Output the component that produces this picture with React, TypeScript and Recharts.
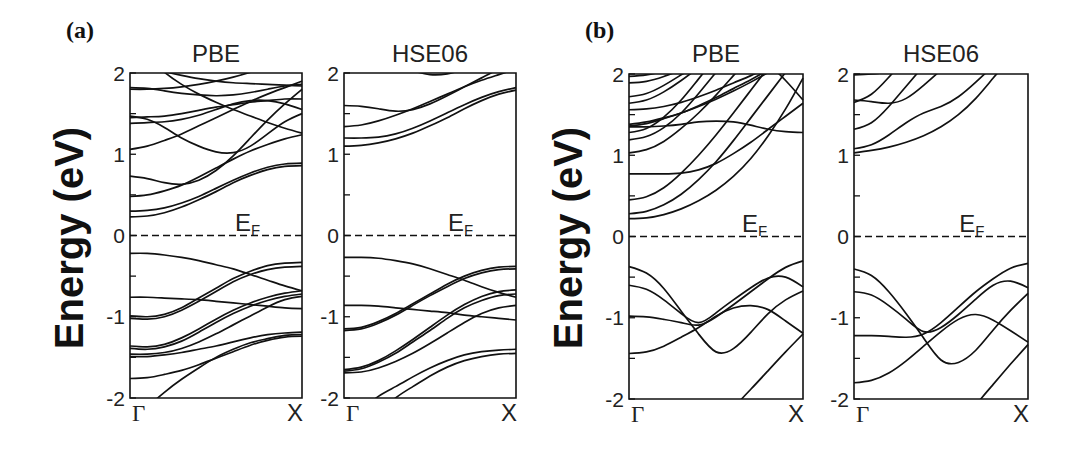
import { LineChart, Line, XAxis, YAxis, ReferenceLine, ReferenceArea } from 'recharts';

// k-path sampled from Γ (0) to X (1)
const K_POINTS = [0, 0.1, 0.2, 0.3, 0.4, 0.5, 0.6, 0.7, 0.8, 0.9, 1];
const Y_TICKS = [-2, -1.5, -1, -0.5, 0, 0.5, 1, 1.5, 2];
const X_TICKS = [0, 1];
const X_LABELS = ['Γ', 'X'];

// (a) PBE
const A_PBE_VALENCE = [
  [-0.22, -0.22, -0.24, -0.27, -0.31, -0.36, -0.41, -0.48, -0.55, -0.62, -0.68],
  [-0.99, -1.0, -0.97, -0.89, -0.77, -0.65, -0.53, -0.44, -0.37, -0.34, -0.33],
  [-1.02, -1.03, -1.0, -0.92, -0.81, -0.69, -0.57, -0.48, -0.42, -0.39, -0.38],
  [-0.76, -0.76, -0.77, -0.78, -0.79, -0.81, -0.83, -0.85, -0.87, -0.89, -0.9],
  [-1.36, -1.37, -1.34, -1.26, -1.15, -1.03, -0.92, -0.83, -0.76, -0.71, -0.68],
  [-1.39, -1.4, -1.37, -1.3, -1.19, -1.07, -0.96, -0.87, -0.8, -0.75, -0.72],
  [-1.46, -1.46, -1.44, -1.39, -1.31, -1.21, -1.1, -0.99, -0.88, -0.79, -0.75],
  [-1.49, -1.49, -1.47, -1.44, -1.4, -1.36, -1.31, -1.26, -1.22, -1.2, -1.19],
  [-1.76, -1.75, -1.71, -1.66, -1.59, -1.51, -1.43, -1.35, -1.29, -1.25, -1.24],
  [-2.35, -2.12, -1.93, -1.77, -1.63, -1.5, -1.4, -1.32, -1.27, -1.23, -1.22],
];
const A_PBE_CONDUCTION = [
  [0.23, 0.24, 0.28, 0.35, 0.44, 0.54, 0.65, 0.74, 0.81, 0.85, 0.86],
  [0.3, 0.31, 0.34, 0.4, 0.48, 0.58, 0.68, 0.77, 0.84, 0.88, 0.89],
  [0.48, 0.5, 0.55, 0.62, 0.72, 0.83, 0.94, 1.04, 1.12, 1.19, 1.24],
  [0.73, 0.7, 0.65, 0.63, 0.68, 0.8, 0.98, 1.2, 1.42, 1.62, 1.8],
  [1.06, 1.1, 1.17, 1.25, 1.35, 1.45, 1.55, 1.65, 1.74, 1.82, 1.9],
  [1.47, 1.43, 1.33, 1.2, 1.1, 1.03, 1.02, 1.1, 1.25, 1.4, 1.5],
  [1.45, 1.46, 1.47, 1.5, 1.54, 1.58, 1.61, 1.64, 1.66, 1.68, 1.68],
  [1.38, 1.39, 1.4, 1.43, 1.48, 1.55, 1.62, 1.66, 1.66, 1.62, 1.55],
  [1.8, 1.8, 1.81, 1.83, 1.86, 1.9, 1.95, 2.01, 2.08, 2.15, 2.22],
  [1.82, 1.81, 1.78, 1.75, 1.73, 1.72, 1.73, 1.76, 1.8, 1.84, 1.86],
  [2.4, 2.2, 2.01, 1.86, 1.74, 1.64, 1.55, 1.47, 1.39, 1.32, 1.26],
  [2.2, 2.1, 2.02, 1.97, 1.93, 1.9, 1.88, 1.87, 1.86, 1.85, 1.84],
];

// (a) HSE06
const A_HSE_VALENCE = [
  [-0.27, -0.27, -0.28, -0.31, -0.35, -0.41, -0.48, -0.55, -0.63, -0.7, -0.76],
  [-1.15, -1.13, -1.06, -0.96, -0.84, -0.72, -0.6, -0.5, -0.43, -0.39, -0.38],
  [-1.17, -1.15, -1.08, -0.98, -0.86, -0.74, -0.63, -0.53, -0.46, -0.42, -0.41],
  [-0.86, -0.86, -0.87, -0.89, -0.91, -0.93, -0.95, -0.98, -1.0, -1.02, -1.04],
  [-1.65, -1.62, -1.54, -1.42, -1.28, -1.13, -0.98, -0.85, -0.75, -0.69, -0.67],
  [-1.67, -1.64, -1.56, -1.45, -1.31, -1.17, -1.02, -0.89, -0.8, -0.74, -0.72],
  [-1.69, -1.68, -1.63, -1.55, -1.45, -1.33, -1.2, -1.07, -0.96, -0.89, -0.86],
  [-2.3, -2.15, -1.98, -1.86, -1.74, -1.63, -1.54, -1.47, -1.43, -1.41, -1.4],
  [-2.6, -2.4, -2.2, -2.0, -1.86, -1.73, -1.62, -1.54, -1.49, -1.46, -1.45],
];
const A_HSE_CONDUCTION = [
  [1.1, 1.11, 1.14, 1.19, 1.26, 1.35, 1.45, 1.56, 1.66, 1.74, 1.79],
  [1.2, 1.2, 1.21, 1.25, 1.32, 1.41, 1.51, 1.61, 1.7, 1.77, 1.82],
  [1.34, 1.36, 1.41, 1.48, 1.56, 1.65, 1.74, 1.83, 1.91, 1.98, 2.05],
  [1.6, 1.59, 1.56, 1.53, 1.55, 1.62, 1.72, 1.83, 1.94, 2.05, 2.15],
  [2.6, 2.45, 2.28, 2.12, 2.03, 1.98, 1.99, 2.05, 2.15, 2.3, 2.45],
];

// (b) PBE
const B_PBE_VALENCE = [
  [-0.37, -0.45, -0.64, -0.92, -1.2, -1.42, -1.38, -1.18, -0.95, -0.78, -0.67],
  [-0.6, -0.65, -0.78, -0.95, -1.06, -0.94, -0.78, -0.63, -0.51, -0.5, -0.62],
  [-0.98, -0.99, -1.02, -1.06, -1.09, -0.99, -0.84, -0.68, -0.52, -0.38, -0.3],
  [-1.44, -1.42, -1.35, -1.24, -1.12, -0.98, -0.88, -0.85, -0.9, -1.04, -1.19],
  [-4.0, -3.7, -3.4, -3.1, -2.8, -2.45, -2.12, -1.88, -1.65, -1.42, -1.2],
];
const B_PBE_CONDUCTION = [
  [0.22, 0.23, 0.27, 0.34, 0.44, 0.57, 0.74, 0.96, 1.24, 1.57, 1.95],
  [0.28, 0.31, 0.39, 0.52, 0.7, 0.92, 1.18, 1.46, 1.74, 2.02, 2.3],
  [0.45, 0.49, 0.6, 0.78, 1.0, 1.25, 1.52, 1.8, 2.08, 2.36, 2.64],
  [0.77, 0.77, 0.77, 0.78, 0.82, 0.9, 1.02, 1.16, 1.32, 1.48, 1.64],
  [1.03, 1.07, 1.17, 1.33, 1.52, 1.74, 1.98, 2.22, 2.46, 2.7, 2.94],
  [1.35, 1.35, 1.36, 1.38, 1.41, 1.42, 1.41, 1.37, 1.32, 1.29, 1.28],
  [1.19, 1.23, 1.34, 1.52, 1.76, 2.02, 2.28, 2.54, 2.8, 3.06, 3.32],
  [1.28, 1.33, 1.47, 1.68, 1.94, 2.2, 2.46, 2.72, 2.98, 3.24, 3.5],
  [1.38, 1.41, 1.46, 1.52, 1.6, 1.69, 1.79, 1.9, 2.02, 2.15, 2.28],
  [1.36, 1.39, 1.45, 1.52, 1.61, 1.71, 1.82, 1.93, 2.05, 2.17, 2.3],
  [1.56, 1.57, 1.6, 1.65, 1.72, 1.8, 1.89, 1.98, 2.08, 2.18, 2.28],
  [1.64, 1.68, 1.78, 1.92, 2.08, 2.25, 2.42, 2.6, 2.78, 2.96, 3.14],
  [1.72, 1.76, 1.86, 1.99, 2.13, 2.3, 2.47, 2.64, 2.82, 3.0, 3.18],
  [1.89, 1.91, 1.97, 2.05, 2.15, 2.3, 2.45, 2.6, 2.75, 2.9, 3.05],
  [3.2, 3.0, 2.85, 2.7, 2.58, 2.47, 2.37, 2.26, 2.12, 1.92, 1.68],
  [1.97, 1.99, 2.04, 2.12, 2.2, 2.3, 2.4, 2.5, 2.6, 2.7, 2.8],
];

// (b) HSE06
const B_HSE_VALENCE = [
  [-0.4, -0.48, -0.68, -0.95, -1.25, -1.52, -1.55, -1.4, -1.15, -0.91, -0.7],
  [-0.68, -0.72, -0.85, -1.02, -1.17, -1.12, -0.96, -0.77, -0.6, -0.55, -0.63],
  [-1.22, -1.22, -1.23, -1.24, -1.2, -1.06, -0.87, -0.68, -0.52, -0.39, -0.33],
  [-1.8, -1.77, -1.68, -1.53, -1.35, -1.17, -1.02, -0.96, -1.03, -1.16, -1.3],
  [-4.2, -3.9, -3.6, -3.3, -3.0, -2.7, -2.4, -2.08, -1.82, -1.57, -1.33],
];
const B_HSE_CONDUCTION = [
  [1.03, 1.06, 1.1, 1.16, 1.24, 1.35, 1.5, 1.7, 1.95, 2.2, 2.45],
  [1.08, 1.13, 1.25, 1.4, 1.52, 1.6, 1.72, 1.9, 2.1, 2.3, 2.5],
  [1.32, 1.4, 1.6, 1.85, 2.1, 2.35, 2.6, 2.85, 3.1, 3.35, 3.6],
  [1.68, 1.66, 1.64, 1.7, 1.86, 2.05, 2.25, 2.45, 2.65, 2.85, 3.05],
  [1.65, 1.75, 1.96, 2.2, 2.45, 2.7, 2.95, 3.2, 3.45, 3.7, 3.95],
  [1.99, 2.0, 2.03, 2.1, 2.2, 2.3, 2.4, 2.5, 2.6, 2.7, 2.8],
];

const SANS = '"Liberation Sans", Arial, sans-serif';
const SERIF = '"Liberation Serif", "Times New Roman", serif';
const INK = '#111';

const PANELS = [
  { title: 'PBE', left: 130, top: 73, width: 172, height: 325, ef: 0.61, bands: [...A_PBE_VALENCE, ...A_PBE_CONDUCTION] },
  { title: 'HSE06', left: 344, top: 73, width: 172, height: 325, ef: 0.605, bands: [...A_HSE_VALENCE, ...A_HSE_CONDUCTION] },
  { title: 'PBE', left: 629, top: 74, width: 174, height: 325, ef: 0.65, bands: [...B_PBE_VALENCE, ...B_PBE_CONDUCTION] },
  { title: 'HSE06', left: 854, top: 74, width: 174, height: 325, ef: 0.605, bands: [...B_HSE_VALENCE, ...B_HSE_CONDUCTION] },
];

const PAD_LEFT = 45;
const PAD_TOP = 10;
const PAD_RIGHT = 10;
const PAD_BOTTOM = 35;

function toRows(bands: number[][]) {
  return K_POINTS.map((k, i) => {
    const row: Record<string, number> = { k };
    bands.forEach((b, j) => {
      row['b' + j] = b[i];
    });
    return row;
  });
}

function YTick(props: any) {
  const { x, y, payload } = props;
  const v = payload.value as number;
  const major = Number.isInteger(v);
  return (
    <g>
      <line x1={x} x2={x + 6} y1={y} y2={y} stroke={INK} strokeWidth={1.3} />
      {major && (
        <text x={x - 5} y={y} dy="0.36em" textAnchor="end" fontSize={21} fill="#222" fontFamily={SANS}>
          {String(v)}
        </text>
      )}
    </g>
  );
}

function XTick(props: any) {
  const { x, y, payload, index } = props;
  const first = payload.value === 0;
  return (
    <text
      x={first ? x + 2 : x + 1}
      y={y + 23}
      textAnchor={first ? 'start' : 'end'}
      fontSize={first ? 23 : 24}
      fill="#222"
      fontFamily={first ? SERIF : SANS}
    >
      {X_LABELS[index] ?? (first ? X_LABELS[0] : X_LABELS[1])}
    </text>
  );
}

function BandPanel({ panel }: { panel: (typeof PANELS)[number] }) {
  const data = toRows(panel.bands);
  return (
    <div style={{ position: 'absolute', left: panel.left - PAD_LEFT, top: panel.top - PAD_TOP }}>
      <LineChart
        width={panel.width + PAD_LEFT + PAD_RIGHT}
        height={panel.height + PAD_TOP + PAD_BOTTOM}
        data={data}
        margin={{ top: PAD_TOP, right: PAD_RIGHT, left: 0, bottom: 0 }}
      >
        <XAxis
          type="number"
          dataKey="k"
          domain={[0, 1]}
          ticks={X_TICKS}
          interval={0}
          tick={<XTick />}
          tickLine={false}
          axisLine={false}
          tickSize={0}
          tickMargin={0}
          height={PAD_BOTTOM}
        />
        <YAxis
          type="number"
          domain={[-2, 2]}
          ticks={Y_TICKS}
          interval={0}
          allowDataOverflow
          tick={<YTick />}
          tickLine={false}
          axisLine={false}
          tickSize={0}
          tickMargin={0}
          width={PAD_LEFT}
        />
        <ReferenceLine y={0} stroke={INK} strokeWidth={1.3} strokeDasharray="7 4" />
        {panel.bands.map((_, j) => (
          <Line
            key={j}
            type="natural"
            dataKey={'b' + j}
            stroke={INK}
            strokeWidth={1.7}
            dot={false}
            activeDot={false}
            isAnimationActive={false}
          />
        ))}
        <ReferenceArea x1={0} x2={1} y1={-2} y2={2} fill="none" stroke={INK} strokeWidth={1.6} />
      </LineChart>
    </div>
  );
}

export default function App() {
  return (
    <div style={{ position: 'absolute', left: 0, top: 0, width: 1068, height: 454, background: '#fff' }}>
      {PANELS.map((p, i) => (
        <BandPanel key={i} panel={p} />
      ))}
      <svg width={1068} height={454} style={{ position: 'absolute', left: 0, top: 0, pointerEvents: 'none' }}>
        <text x={66} y={38} fontSize={24} fontWeight="bold" fontFamily={SERIF} fill="#111">(a)</text>
        <text x={585} y={38} fontSize={24} fontWeight="bold" fontFamily={SERIF} fill="#111">(b)</text>
        {[83, 582].map((x) => (
          <text
            key={x}
            transform={`translate(${x},238) rotate(-90)`}
            textAnchor="middle"
            fontSize={40}
            fontWeight="bold"
            fontFamily={SANS}
            fill="#111"
          >
            Energy (eV)
          </text>
        ))}
        {PANELS.map((p, i) => (
          <g key={i}>
            <text x={p.left + p.width / 2} y={62} textAnchor="middle" fontSize={24} fontFamily={SANS} fill="#222">
              {p.title}
            </text>
            <text x={p.left + p.ef * p.width} y={p.top + p.height / 2 - 5} fontSize={24} fontFamily={SANS} fill="#222">
              E
              <tspan fontSize={15} dy={4}>F</tspan>
            </text>
          </g>
        ))}
      </svg>
    </div>
  );
}
